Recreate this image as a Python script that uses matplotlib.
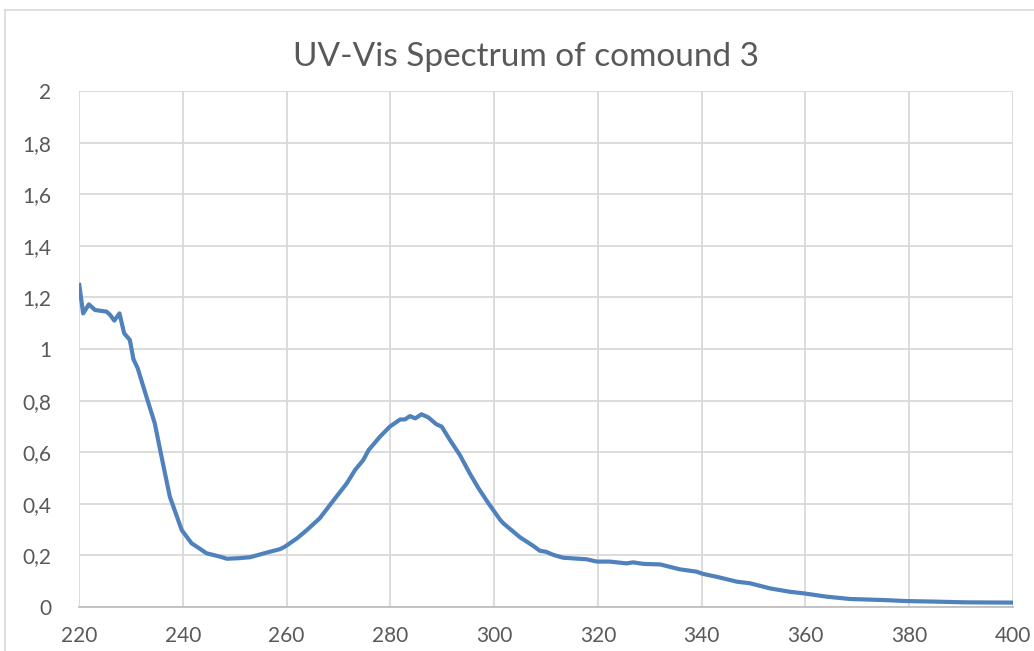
import matplotlib
matplotlib.use("Agg")
import matplotlib.pyplot as plt
from matplotlib.lines import Line2D
from matplotlib.ticker import FuncFormatter

# values
wavelength = [
    220.0, 220.8, 221.9, 223.1, 225.3, 226.0, 226.8, 227.8, 228.7, 229.8,
    230.5, 231.3, 233.0, 234.6, 235.9, 237.5, 239.8, 241.7, 244.6, 247.2,
    248.5, 250.7, 253.0, 256.2, 258.7, 259.7, 262.0, 263.9, 266.4, 269.0,
    271.6, 273.2, 274.8, 275.8, 278.0, 279.9, 281.9, 282.8, 283.8, 284.8,
    286.0, 287.3, 288.9, 289.9, 291.5, 293.4, 295.3, 297.0, 298.9, 301.2,
    301.8, 305.0, 307.6, 308.8, 310.0, 311.4, 313.3, 317.8, 319.8, 322.3,
    325.5, 326.8, 328.8, 332.0, 335.8, 339.0, 340.3, 342.9, 346.8, 349.3,
    353.2, 357.0, 359.6, 364.1, 368.6, 375.0, 379.5, 384.6, 391.0, 400.0,
]
absorbance = [
    1.256, 1.138, 1.173, 1.151, 1.145, 1.132, 1.110, 1.138, 1.061, 1.035,
    0.960, 0.926, 0.815, 0.712, 0.583, 0.428, 0.298, 0.247, 0.208, 0.195,
    0.187, 0.189, 0.193, 0.211, 0.224, 0.234, 0.266, 0.298, 0.344, 0.412,
    0.479, 0.531, 0.570, 0.608, 0.660, 0.699, 0.727, 0.727, 0.740, 0.731,
    0.747, 0.735, 0.708, 0.699, 0.647, 0.589, 0.518, 0.460, 0.402, 0.337,
    0.324, 0.270, 0.236, 0.218, 0.214, 0.202, 0.191, 0.185, 0.176, 0.176,
    0.169, 0.173, 0.167, 0.165, 0.146, 0.137, 0.128, 0.117, 0.098, 0.092,
    0.072, 0.059, 0.053, 0.040, 0.031, 0.027, 0.023, 0.021, 0.018, 0.017,
]
x_ticks = [220, 240, 260, 280, 300, 320, 340, 360, 380, 400]
y_ticks = [0, 0.2, 0.4, 0.6, 0.8, 1.0, 1.2, 1.4, 1.6, 1.8, 2.0]
title = "UV-Vis Spectrum of comound 3"

text_color = "#595959"
grid_color = "#d9d9d9"
line_color = "#4f81bd"

plt.rcParams["font.family"] = ["Lato", "DejaVu Sans"]

fig = plt.figure(figsize=(10.34, 6.51), dpi=100)
ax = fig.add_axes([0.0764, 0.0676, 0.9033, 0.7926])

ax.plot(wavelength, absorbance, color=line_color, linewidth=3.0,
        solid_joinstyle="round", solid_capstyle="butt", zorder=3)

ax.set_xlim(220, 400)
ax.set_ylim(0, 2)
ax.set_xticks(x_ticks)
ax.set_yticks(y_ticks)


def comma_fmt(v, pos):
    s = f"{v:.1f}".rstrip("0").rstrip(".")
    return s.replace(".", ",")


ax.yaxis.set_major_formatter(FuncFormatter(comma_fmt))
ax.grid(True, color=grid_color, linewidth=1.3)
ax.set_axisbelow(True)
for side in ["top", "right", "left"]:
    ax.spines[side].set_visible(False)
ax.spines["bottom"].set_color("#bfbfbf")
ax.spines["bottom"].set_linewidth(1.3)
ax.tick_params(axis="both", length=0, colors=text_color, labelsize=15)
ax.tick_params(axis="y", pad=20)
ax.tick_params(axis="x", pad=14)

fig.text(0.509, 0.913, title, ha="center", va="center",
         fontsize=24, color=text_color)

# chart area border (only left and top edges are inside the picture)
fig.add_artist(Line2D([0.0045, 0.0045], [0, 0.985], transform=fig.transFigure,
                      color=grid_color, linewidth=1.2))
fig.add_artist(Line2D([0.0045, 1.0], [0.985, 0.985], transform=fig.transFigure,
                      color=grid_color, linewidth=1.2))

fig.savefig("out.png", dpi=100, facecolor="white")
